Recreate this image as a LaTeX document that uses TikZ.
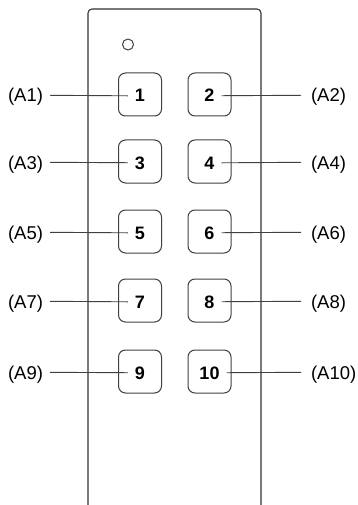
\documentclass[tikz,border=0pt]{standalone}
\usepackage{fontspec}
\setmainfont{Liberation Sans}
\begin{document}
\begin{tikzpicture}[x=1pt,y=-1pt,
  ink/.style={draw=black!75,line width=1pt},
  btn/.style={ink,rounded corners=7pt,minimum width=43pt,minimum height=43pt,inner sep=0pt},
  num/.style={font=\fontsize{18}{18}\selectfont\bfseries,inner sep=0pt,outer sep=7pt,text depth=0pt,anchor=base},
  lbl/.style={font=\fontsize{18.5}{18.5}\selectfont,inner sep=0pt,text depth=0pt},
  lblL/.style={lbl,outer sep=7pt,anchor=base east},
  lblR/.style={lbl,outer sep=10pt,anchor=base west},
  conn/.style={draw=black!75,line width=0.9pt}]
\useasboundingbox (0,0) rectangle (358,505);
\draw[draw=black!80,line width=1.1pt,rounded corners=4pt] (88,505) -- (88,9) -- (261,9) -- (261,505);
\node[ink,circle,minimum size=11pt,inner sep=0pt] (led) at (128,44.5) {};
\foreach \i/\y in {0/102,1/169,2/239,3/308,4/379}{
  \pgfmathtruncatemacro{\l}{2*\i+1}
  \pgfmathtruncatemacro{\r}{2*\i+2}
  \node[btn] (bl\l) at (140,\y-7.5) {};
  \node[btn] (br\r) at (209.5,\y-7.5) {};
  \node[num] (n\l) at (140,\y) {\l};
  \node[num] (n\r) at (209.5,\y) {\r};
  \node[lblL] (a\l) at (50,\y) {(A\l)};
  \node[lblR] (a\r) at (301,\y) {(A\r)};
  \draw[conn] (a\l.east) -- (n\l.west);
  \draw[conn] (n\r.east) -- (a\r.west);
}
\end{tikzpicture}
\end{document}
